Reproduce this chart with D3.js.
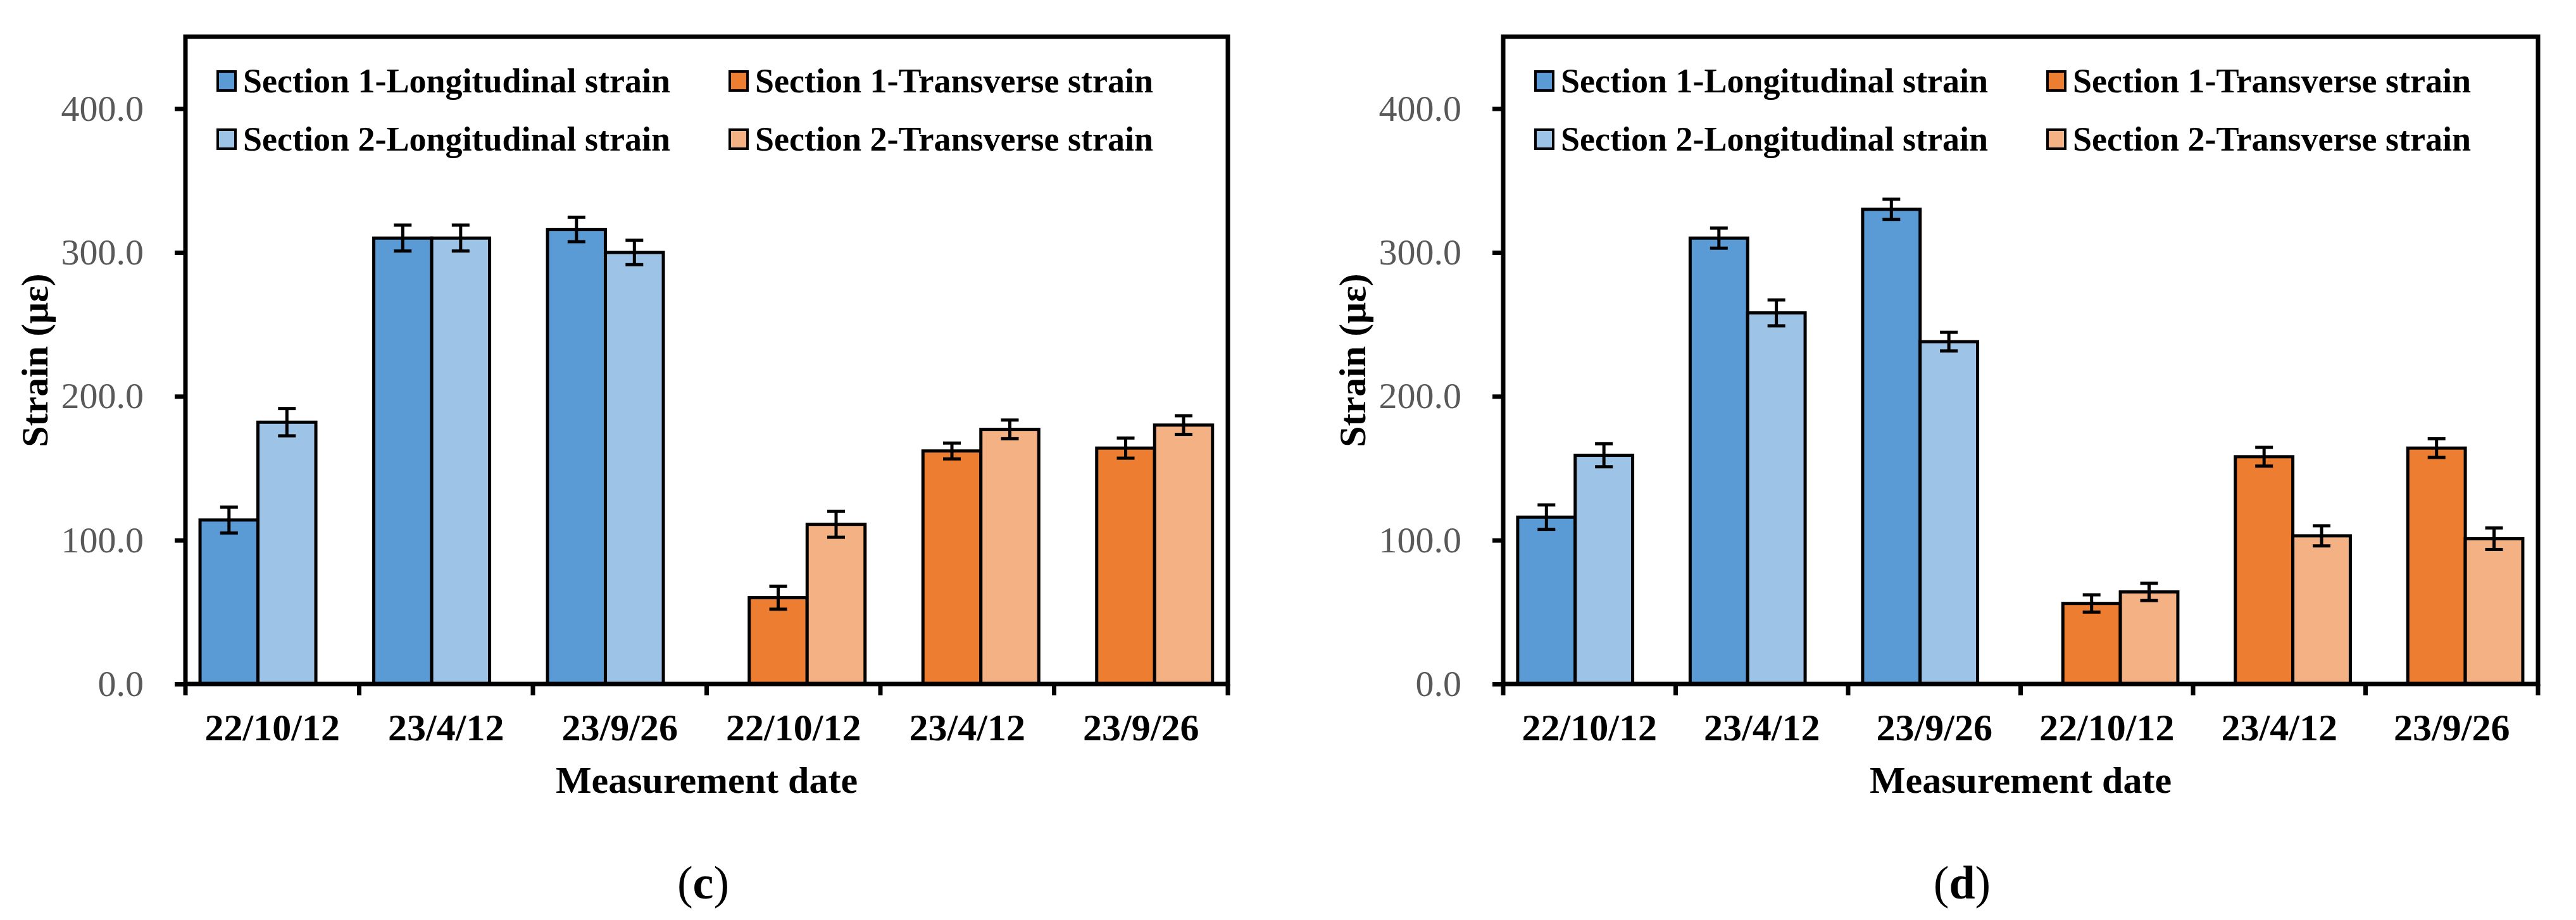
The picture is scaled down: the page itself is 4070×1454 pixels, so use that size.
<!DOCTYPE html>
<html>
<head>
<meta charset="utf-8">
<script src="https://cdn.jsdelivr.net/npm/d3@7"></script>
<style>
  html, body { margin: 0; padding: 0; background: #fff; }
  svg { display: block; }
</style>
</head>
<body>
<svg id="chart" width="4070" height="1454"></svg>
<script>
// ---------- data ----------
const dates = ['22/10/12', '23/4/12', '23/9/26'];
const seriesNames = [
  'Section 1-Longitudinal strain',
  'Section 1-Transverse strain',
  'Section 2-Longitudinal strain',
  'Section 2-Transverse strain',
];
const yTicks = [0, 100, 200, 300, 400];

// panel (c)
const cLong1 = [114, 310, 316];
const cLong1Err = [9, 9, 8.5];
const cLong2 = [182, 310, 300];
const cLong2Err = [9.5, 9, 8.5];
const cTrans1 = [60, 162, 164];
const cTrans1Err = [8, 5.5, 7];
const cTrans2 = [111, 177, 180];
const cTrans2Err = [9, 6.5, 6.5];

// panel (d)
const dLong1 = [116, 310, 330];
const dLong1Err = [8.5, 7, 7];
const dLong2 = [159, 258, 238];
const dLong2Err = [8, 9, 6.5];
const dTrans1 = [56, 158, 164];
const dTrans1Err = [6, 6.5, 6.5];
const dTrans2 = [64, 103, 101];
const dTrans2Err = [6, 7, 7.5];

// ---------- styles ----------
const COLORS = {
  long1: '#5B9BD5',
  long2: '#9DC3E6',
  trans1: '#ED7D31',
  trans2: '#F4B183',
};
const FONT = "'Liberation Serif', 'Times New Roman', serif";

const svg = d3.select('#chart');
svg.append('rect').attr('width', 4070).attr('height', 1454).attr('fill', '#fff');

const TOP = 58;
const BOTTOM = 1081;
const y = d3.scaleLinear().domain([0, 450]).range([BOTTOM, TOP]);

const panels = [
  {
    left: 293, right: 1940, tag: 'c', tagX: 1111,
    long1: cLong1, long1Err: cLong1Err, long2: cLong2, long2Err: cLong2Err,
    trans1: cTrans1, trans1Err: cTrans1Err, trans2: cTrans2, trans2Err: cTrans2Err,
  },
  {
    left: 2375, right: 4010, tag: 'd', tagX: 3100,
    long1: dLong1, long1Err: dLong1Err, long2: dLong2, long2Err: dLong2Err,
    trans1: dTrans1, trans1Err: dTrans1Err, trans2: dTrans2, trans2Err: dTrans2Err,
  },
];

const catLabels = dates.concat(dates);

panels.forEach((p) => {
  const W = p.right - p.left;
  const g = svg.append('g').attr('transform', `translate(${p.left},0)`);

  const x0 = d3.scaleBand().domain(d3.range(6)).range([0, W]);
  const bw = x0.bandwidth();
  const barW = bw / 3;
  const x1 = d3.scaleBand().domain([0, 1]).range([0, 2 * barW]);

  // longitudinal pair sits left in its slot, transverse pair sits right
  const groupOffset = { long: 0.084 * bw, trans: 0.245 * bw };

  const bars = [];
  dates.forEach((_, i) => {
    bars.push({ cat: i, sub: 0, grp: 'long', v: p.long1[i], e: p.long1Err[i], c: COLORS.long1 });
    bars.push({ cat: i, sub: 1, grp: 'long', v: p.long2[i], e: p.long2Err[i], c: COLORS.long2 });
    bars.push({ cat: i + 3, sub: 0, grp: 'trans', v: p.trans1[i], e: p.trans1Err[i], c: COLORS.trans1 });
    bars.push({ cat: i + 3, sub: 1, grp: 'trans', v: p.trans2[i], e: p.trans2Err[i], c: COLORS.trans2 });
  });
  const bx = (d) => x0(d.cat) + groupOffset[d.grp] + x1(d.sub);

  g.selectAll('rect.bar')
    .data(bars)
    .join('rect')
    .attr('class', 'bar')
    .attr('x', bx)
    .attr('y', (d) => y(d.v))
    .attr('width', x1.bandwidth())
    .attr('height', (d) => y(0) - y(d.v))
    .attr('fill', (d) => d.c)
    .attr('stroke', '#000')
    .attr('stroke-width', 5);

  // error bars
  const eb = g.selectAll('g.err').data(bars).join('g').attr('class', 'err')
    .attr('stroke', '#000').attr('stroke-width', 5);
  const cx = (d) => bx(d) + x1.bandwidth() / 2;
  eb.append('line')
    .attr('x1', cx).attr('x2', cx)
    .attr('y1', (d) => y(d.v - d.e)).attr('y2', (d) => y(d.v + d.e));
  [(d) => d.v - d.e, (d) => d.v + d.e].forEach((f) => {
    eb.append('line')
      .attr('x1', (d) => cx(d) - 14).attr('x2', (d) => cx(d) + 14)
      .attr('y1', (d) => y(f(d))).attr('y2', (d) => y(f(d)));
  });

  // plot frame
  g.append('rect')
    .attr('x', 0).attr('y', TOP)
    .attr('width', W).attr('height', BOTTOM - TOP)
    .attr('fill', 'none').attr('stroke', '#000').attr('stroke-width', 7);

  // y axis
  const yAxis = g.append('g')
    .call(d3.axisLeft(y).tickValues(yTicks).tickSize(17).tickPadding(49)
      .tickFormat((d) => d.toFixed(1)));
  yAxis.select('.domain').remove();
  yAxis.selectAll('line').attr('stroke', '#000').attr('stroke-width', 7);
  yAxis.selectAll('text')
    .attr('font-family', FONT).attr('font-size', 58).attr('fill', '#595959');

  // x axis labels
  const xAxis = g.append('g').attr('transform', `translate(0,${BOTTOM})`)
    .call(d3.axisBottom(x0).tickSize(0).tickFormat((i) => catLabels[i]));
  xAxis.select('.domain').remove();
  xAxis.selectAll('text')
    .attr('y', 89).attr('dy', null)
    .attr('font-family', FONT).attr('font-size', 60).attr('font-weight', 'bold')
    .attr('fill', '#000');

  // category boundary ticks
  const bounds = d3.range(6).map((i) => x0(i)).concat([W]);
  g.selectAll('line.xtick').data(bounds).join('line')
    .attr('class', 'xtick')
    .attr('x1', (d) => d).attr('x2', (d) => d)
    .attr('y1', BOTTOM).attr('y2', BOTTOM + 18)
    .attr('stroke', '#000').attr('stroke-width', 7);

  // axis titles
  g.append('text')
    .attr('transform', `translate(-218,${(TOP + BOTTOM) / 2}) rotate(-90)`)
    .attr('text-anchor', 'middle')
    .attr('font-family', FONT).attr('font-size', 60).attr('font-weight', 'bold')
    .text('Strain (με)');

  g.append('text')
    .attr('x', W / 2).attr('y', 1253)
    .attr('text-anchor', 'middle')
    .attr('font-family', FONT).attr('font-size', 60).attr('font-weight', 'bold')
    .text('Measurement date');

  // legend
  const legendItems = [
    { name: seriesNames[0], c: COLORS.long1, col: 0, row: 0 },
    { name: seriesNames[1], c: COLORS.trans1, col: 1, row: 0 },
    { name: seriesNames[2], c: COLORS.long2, col: 0, row: 1 },
    { name: seriesNames[3], c: COLORS.trans2, col: 1, row: 1 },
  ];
  const colX = [51, 860];
  const rowY = [146, 238];
  const lg = g.selectAll('g.leg').data(legendItems).join('g')
    .attr('class', 'leg')
    .attr('transform', (d) => `translate(${colX[d.col]},${rowY[d.row]})`);
  lg.append('rect')
    .attr('x', 0).attr('y', -33).attr('width', 28).attr('height', 30)
    .attr('fill', (d) => d.c).attr('stroke', '#000').attr('stroke-width', 4);
  lg.append('text')
    .attr('x', 40).attr('y', 0)
    .attr('font-family', FONT).attr('font-size', 54).attr('font-weight', 'bold')
    .text((d) => d.name);

  // panel tag
  const tag = svg.append('text')
    .attr('x', p.tagX).attr('y', 1420)
    .attr('text-anchor', 'middle')
    .attr('font-family', FONT).attr('font-size', 74);
  tag.append('tspan').text('(');
  tag.append('tspan').attr('font-weight', 'bold').text(p.tag);
  tag.append('tspan').text(')');
});
</script>
</body>
</html>
